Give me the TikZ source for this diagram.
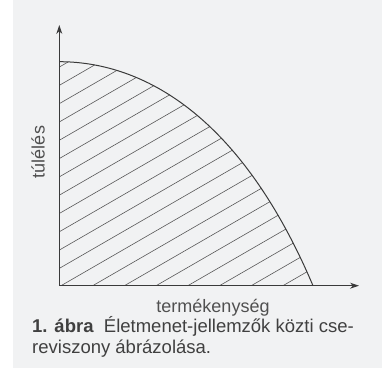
\documentclass[tikz,border=0pt]{standalone}
\usepackage{fontspec}
\setmainfont{Liberation Sans}
\usepackage{tikz}
\usetikzlibrary{arrows.meta,positioning}
\definecolor{paper}{HTML}{F1F2F3}
\definecolor{ink}{HTML}{3A3A3A}
\definecolor{print}{HTML}{505050}

\begin{document}
\begin{tikzpicture}[x=1pt,y=1pt,font=\fontsize{18}{20}\selectfont,
    axis/.style={line width=1pt,draw=ink,-{Stealth[length=9pt,width=6pt]}},
    hatch/.style={line width=0.6pt,draw=ink!85},
    caption/.style={text=print!80!black,anchor=base west,inner sep=0pt,font=\fontsize{18.5}{20}\selectfont}]
  \fill[paper] (0,0) rectangle (382,368);
  \fill[white] (0,0) rectangle (13,368);
  \useasboundingbox (0,0) rectangle (382,368);
  \coordinate (O) at (59.3,82.3);
  \coordinate (ytop) at (59.3,343);
  \coordinate (xend) at (359,82.3);
  \coordinate (top) at (59.3,306.3);
  \coordinate (foot) at (313,82.3);
  % hatched region under the trade-off curve
  \begin{scope}
    \clip (O) -- (top) .. controls (135.4,306.3) and (236.9,261.5) .. (foot) -- cycle;
    \foreach \k in {-14,...,8}{
      \draw[hatch] (61+31.7*\k,82.3) -- ++(30:520);
    }
  \end{scope}
  \draw[line width=1pt,draw=ink] (top) .. controls (135.4,306.3) and (236.9,261.5) .. (foot);
  \draw[axis] (O) -- (ytop);
  \draw[axis] (O) -- (xend);
  \node[text=print,rotate=90] (ylab) at (38,216) {túlélés};
  \node[text=print,anchor=base] (xlab) at (213,56) {termékenység};
  \node[caption] (cap1) at (32,35.5) {\textbf{1. ábra}\ \ Életmenet-jellemzők közti cse-};
  \node[caption] (cap2) at (32,15) {reviszony ábrázolása.};
\end{tikzpicture}
\end{document}
